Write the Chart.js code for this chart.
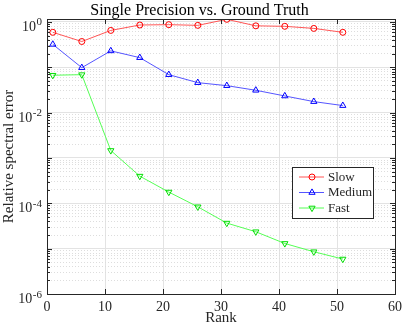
<!DOCTYPE html>
<html>
<head>
<meta charset="utf-8">
<script src="https://cdn.jsdelivr.net/npm/chart.js@4/dist/chart.umd.min.js"></script>
<style>
  html, body { margin: 0; padding: 0; background: #fff; }
</style>
</head>
<body>
<canvas id="myChart" width="407" height="332"></canvas>
<script>
// data
const ranks = [1, 6, 11, 16, 21, 26, 31, 36, 41, 46, 51];
const slowErr = [0.59, 0.37, 0.65, 0.855, 0.87, 0.84, 1.14, 0.82, 0.80, 0.72, 0.59];
const mediumErr = [0.32, 0.098, 0.23, 0.163, 0.0687, 0.0458, 0.0393, 0.0311, 0.0233, 0.0175, 0.0143];
const fastErr = [0.0667, 0.0687, 0.00146, 3.97e-4, 1.77e-4, 8.37e-5, 3.66e-5, 2.36e-5, 1.30e-5, 8.55e-6, 5.9e-6];
const seriesNames = ['Slow', 'Medium', 'Fast'];
const xTickStep = 10;
const xMin = 0, xMax = 60;
const yLabelExps = [-6, -4, -2, 0];
const yMin = 1e-6, yMax = 1.16;

const SERIF = '"Liberation Serif", "Times New Roman", serif';
const AXIS_COLOR = '#262626';

function isDecade(v) {
  const l = Math.log10(v);
  return Math.abs(l - Math.round(l)) < 1e-9;
}

// every 1..9 x 10^k position, for the minor grid
const yGridValues = [];
for (let e = yLabelExps[0]; e < yLabelExps[yLabelExps.length - 1]; e++) {
  for (let m = 1; m < 10; m++) yGridValues.push(m * Math.pow(10, e));
}
yGridValues.push(1);

function drawMarker(ctx, style, x, y, r, rotation) {
  ctx.beginPath();
  if (style === 'circle') {
    ctx.arc(x, y, r, 0, Math.PI * 2);
  } else {
    const rot = (rotation || 0) * Math.PI / 180;
    for (let i = 0; i < 3; i++) {
      const ang = rot - Math.PI / 2 + i * 2 * Math.PI / 3;
      const px = x + Math.cos(ang) * r, py = y + Math.sin(ang) * r;
      if (i === 0) ctx.moveTo(px, py); else ctx.lineTo(px, py);
    }
    ctx.closePath();
  }
  ctx.stroke();
}

const frame = {
  id: 'frame',
  afterDraw(chart) {
    const { ctx, chartArea: a, scales: { x, y } } = chart;
    ctx.save();
    ctx.strokeStyle = AXIS_COLOR;
    ctx.lineWidth = 1;
    ctx.setLineDash([]);

    // inward ticks on all four sides
    ctx.beginPath();
    y.ticks.forEach(t => {
      const py = Math.round(y.getPixelForValue(t.value)) + 0.5;
      const len = isDecade(t.value) ? 5 : 3;
      ctx.moveTo(a.left, py); ctx.lineTo(a.left + len, py);
      ctx.moveTo(a.right, py); ctx.lineTo(a.right - len, py);
    });
    x.ticks.forEach(t => {
      const px = Math.round(x.getPixelForValue(t.value)) + 0.5;
      ctx.moveTo(px, a.bottom); ctx.lineTo(px, a.bottom - 5);
      ctx.moveTo(px, a.top); ctx.lineTo(px, a.top + 5);
    });
    ctx.stroke();

    const l = Math.round(a.left) + 0.5, t = Math.round(a.top) + 0.5;
    ctx.strokeRect(l, t, Math.round(a.right) - Math.round(a.left), Math.round(a.bottom) - Math.round(a.top));

    // y tick labels as 10 with superscript exponent
    ctx.fillStyle = AXIS_COLOR;
    ctx.textBaseline = 'alphabetic';
    yLabelExps.forEach(e => {
      const py = y.getPixelForValue(Math.pow(10, e));
      const right = a.left - 5;
      ctx.font = '11px ' + SERIF;
      ctx.textAlign = 'right';
      const sup = String(e);
      const sw = ctx.measureText(sup).width;
      ctx.fillText(sup, right, py + 3.5);
      ctx.font = '14px ' + SERIF;
      ctx.fillText('10', right - sw - 0.5, py + 9);
    });

    // legend box inside the plot
    const bw = 81, bh = 51;
    const bx = Math.round(a.right) - 22 - bw, by = Math.round(a.top) + 148;
    ctx.fillStyle = '#fff';
    ctx.fillRect(bx, by, bw, bh);
    ctx.strokeStyle = AXIS_COLOR;
    ctx.strokeRect(bx + 0.5, by + 0.5, bw, bh);
    chart.data.datasets.forEach((ds, i) => {
      const ry = by + 10 + i * 15.5;
      ctx.strokeStyle = ds.borderColor;
      ctx.beginPath();
      ctx.moveTo(bx + 7, ry); ctx.lineTo(bx + 32, ry);
      ctx.stroke();
      ctx.strokeStyle = ds.pointBorderColor;
      drawMarker(ctx, ds.pointStyle, bx + 20, ry, ds.pointRadius, ds.pointRotation);
      ctx.fillStyle = AXIS_COLOR;
      ctx.font = '13px ' + SERIF;
      ctx.textAlign = 'left';
      ctx.textBaseline = 'middle';
      ctx.fillText(ds.label, bx + 36, ry + 0.5);
    });
    ctx.restore();
  }
};

function toPoints(vals) {
  return ranks.map((r, i) => ({ x: r, y: vals[i] }));
}

const styles = [
  { line: '#ff5555', mark: '#ff0000', shape: 'circle', r: 3, rot: 0 },
  { line: '#5555ff', mark: '#0000ff', shape: 'triangle', r: 3.6, rot: 0 },
  { line: '#55ff55', mark: '#00dd00', shape: 'triangle', r: 3.6, rot: 180 }
];
const seriesValues = [slowErr, mediumErr, fastErr];

const chartContainer = document.getElementById('myChart');

const chartConfiguration = {
  type: 'line',
  data: {
    datasets: seriesNames.map((name, i) => ({
      label: name,
      data: toPoints(seriesValues[i]),
      borderColor: styles[i].line,
      borderWidth: 1,
      pointStyle: styles[i].shape,
      pointRadius: styles[i].r,
      pointRotation: styles[i].rot,
      pointBorderColor: styles[i].mark,
      pointBackgroundColor: 'rgba(0,0,0,0)',
      pointBorderWidth: 1,
      tension: 0,
      fill: false
    }))
  },
  options: {
    responsive: false,
    animation: false,
    layout: { padding: { left: 0, right: 8, top: 0, bottom: 0 } },
    plugins: {
      legend: { display: false },
      tooltip: { enabled: false },
      title: {
        display: true,
        text: 'Single Precision vs. Ground Truth',
        color: '#000',
        font: { family: SERIF, size: 16, weight: 'normal', lineHeight: 0.7 },
        padding: { top: 5, bottom: 2.8 }
      }
    },
    scales: {
      x: {
        type: 'linear',
        min: xMin,
        max: xMax,
        afterFit(scale) { scale.height = 38; },
        ticks: {
          stepSize: xTickStep,
          color: AXIS_COLOR,
          font: { family: SERIF, size: 14 },
          padding: 5,
          maxRotation: 0
        },
        grid: { color: '#e3e3e3', lineWidth: 1, drawTicks: false },
        border: { color: AXIS_COLOR, width: 1 },
        title: {
          display: true,
          text: 'Rank',
          color: AXIS_COLOR,
          font: { family: SERIF, size: 15 },
          padding: { top: 0, bottom: 4.5 }
        }
      },
      y: {
        type: 'logarithmic',
        min: yMin,
        max: yMax,
        afterFit(scale) { scale.width = 47; },
        afterBuildTicks(scale) {
          scale.ticks = yGridValues.map(v => ({ value: v, major: isDecade(v) }));
        },
        ticks: {
          autoSkip: false,
          callback: () => ''
        },
        grid: {
          drawTicks: false,
          lineWidth: 1,
          color: (c) => (c.tick && isDecade(c.tick.value)) ? '#e3e3e3' : '#dddddd'
        },
        border: {
          color: AXIS_COLOR,
          width: 1,
          dash: (c) => (c.tick && !isDecade(c.tick.value)) ? [1, 2] : []
        },
        title: {
          display: true,
          text: 'Relative spectral error',
          color: AXIS_COLOR,
          font: { family: SERIF, size: 15 },
          padding: { top: 0, bottom: 0 }
        }
      }
    }
  },
  plugins: [frame]
};

const myChart = new Chart(chartContainer, chartConfiguration);
</script>
</body>
</html>
